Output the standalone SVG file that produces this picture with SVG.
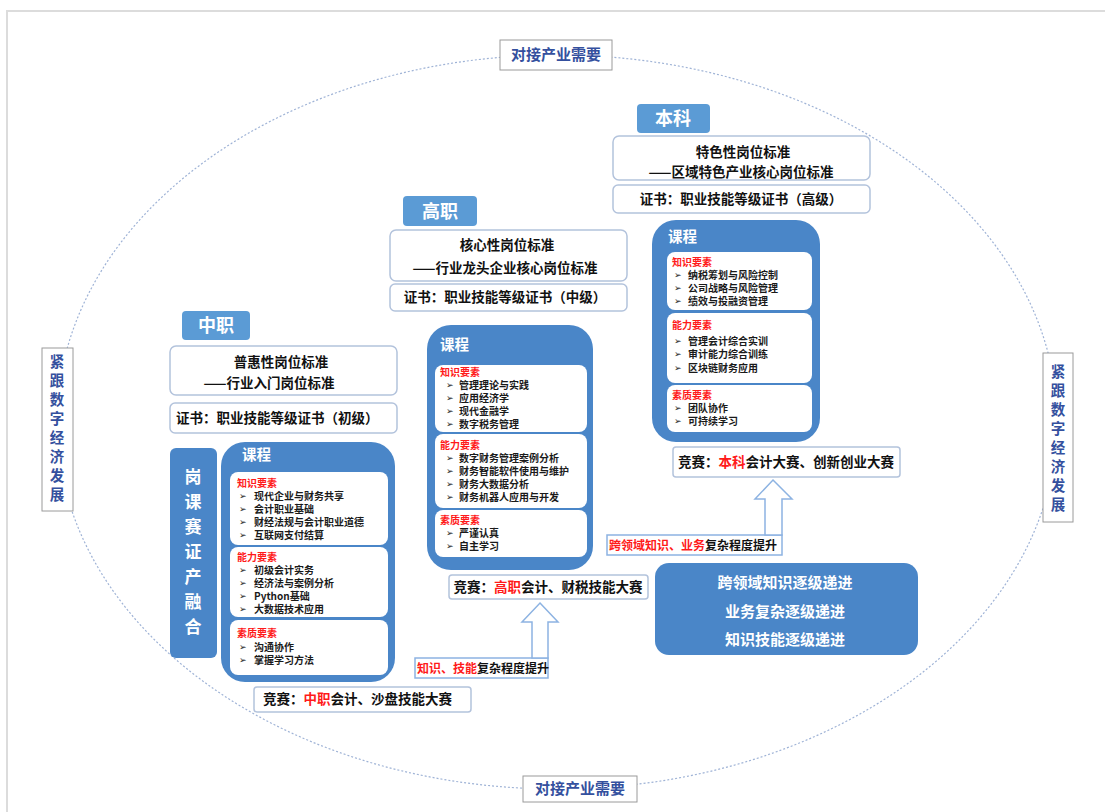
<svg xmlns="http://www.w3.org/2000/svg" width="1105" height="812" viewBox="0 0 1105 812">
<style>
text{font-family:"Noto Sans CJK SC","Liberation Sans",sans-serif;font-weight:700}
.tab{fill:#5b9bd5}
.tabt{fill:#fff;font-size:18px}
.wbox{fill:#fff;stroke:#b3c3dc;stroke-width:1.5}
.std{fill:#111;font-size:13.5px}
.cert{fill:#111;font-size:13.5px}
.course{fill:#4a86c8}
.inner{fill:#fff}
.ct{fill:#fff;font-size:14.5px}
.vt{fill:#fff;font-size:17px}
.h{fill:#ff1a1a;font-size:10px}
.it{fill:#1a1a1a;font-size:10px}
.bl{fill:#1a1a1a;font-size:9px;font-family:"DejaVu Sans",sans-serif}
.comp{fill:#111;font-size:13.5px}
.red{fill:#ff1a1a}
.side{fill:#fff;stroke:#9a9a9a;stroke-width:1}
.sidet{fill:#34509e;font-size:14.5px}
.arrow{fill:#fff;stroke:#8db3e2;stroke-width:1.5}
.lbl{fill:#fff;stroke:#8db3e2;stroke-width:1.5}
.lblt{fill:#111;font-size:12px}
.sum{fill:#4a86c8}
.sumt{fill:#fff;font-size:15px;font-weight:600}
</style>
<rect x="7" y="11" width="1110" height="820" fill="none" stroke="#dcdcdc" stroke-width="2"/>
<g id="connectors">
<ellipse cx="557" cy="422" rx="500" ry="367" fill="none" stroke="#9fb3d6" stroke-width="1.2" stroke-dasharray="2 2"/>
</g>
<g id="top-label">
<rect class="side" x="500" y="40" width="112" height="30"/>
<text class="sidet" style="font-size:15px" x="556" y="60" text-anchor="middle">对接产业需要</text>
</g>
<g id="bottom-label">
<rect class="side" x="523" y="776" width="114" height="26"/>
<text class="sidet" style="font-size:15px" x="580" y="794" text-anchor="middle">对接产业需要</text>
</g>
<g id="left-label">
<rect class="side" x="42" y="348" width="31" height="163"/>
<text class="sidet" x="57" y="367" text-anchor="middle">紧</text>
<text class="sidet" x="57" y="386" text-anchor="middle">跟</text>
<text class="sidet" x="57" y="405" text-anchor="middle">数</text>
<text class="sidet" x="57" y="424" text-anchor="middle">字</text>
<text class="sidet" x="57" y="443" text-anchor="middle">经</text>
<text class="sidet" x="57" y="462" text-anchor="middle">济</text>
<text class="sidet" x="57" y="481" text-anchor="middle">发</text>
<text class="sidet" x="57" y="500" text-anchor="middle">展</text>
</g>
<g id="right-label">
<rect class="side" x="1043" y="353" width="30" height="169"/>
<text class="sidet" x="1058" y="377" text-anchor="middle">紧</text>
<text class="sidet" x="1058" y="396" text-anchor="middle">跟</text>
<text class="sidet" x="1058" y="415" text-anchor="middle">数</text>
<text class="sidet" x="1058" y="434" text-anchor="middle">字</text>
<text class="sidet" x="1058" y="453" text-anchor="middle">经</text>
<text class="sidet" x="1058" y="472" text-anchor="middle">济</text>
<text class="sidet" x="1058" y="491" text-anchor="middle">发</text>
<text class="sidet" x="1058" y="510" text-anchor="middle">展</text>
</g>

<!-- 中职 -->
<g id="zhongzhi-tab">
<rect class="tab" x="182" y="311" width="68" height="29" rx="4"/>
<text class="tabt" x="216" y="332" text-anchor="middle">中职</text>
</g>
<g id="zhongzhi-standard">
<rect class="wbox" x="170" y="346" width="227" height="49" rx="6"/>
<text class="std" x="281" y="367" text-anchor="middle">普惠性岗位标准</text>
<text class="std" x="269" y="388" text-anchor="middle">——行业入门岗位标准</text>
</g>
<g id="zhongzhi-cert">
<rect class="wbox" x="170" y="403" width="227" height="30" rx="5"/>
<text class="cert" x="176" y="423">证书：职业技能等级证书（初级）</text>
</g>
<g id="zhongzhi-fusion">
<rect class="course" x="170" y="448" width="47" height="210" rx="6"/>
<text class="vt" x="193" y="483" text-anchor="middle">岗</text>
<text class="vt" x="193" y="508" text-anchor="middle">课</text>
<text class="vt" x="193" y="533" text-anchor="middle">赛</text>
<text class="vt" x="193" y="558" text-anchor="middle">证</text>
<text class="vt" x="193" y="583" text-anchor="middle">产</text>
<text class="vt" x="193" y="608" text-anchor="middle">融</text>
<text class="vt" x="193" y="633" text-anchor="middle">合</text>
</g>
<g id="zhongzhi-course">
<rect class="course" x="221" y="442" width="174" height="240" rx="24"/>
<text class="ct" x="242" y="460">课程</text>
<rect class="inner" x="230" y="472" width="158" height="73" rx="8"/>
<rect class="inner" x="230" y="547" width="158" height="70" rx="8"/>
<rect class="inner" x="230" y="620" width="158" height="55" rx="8"/>
<text class="h" x="237" y="487">知识要素</text>
<text class="bl" x="239" y="499">➢</text><text class="it" x="254" y="500">现代企业与财务共享</text>
<text class="bl" x="239" y="512">➢</text><text class="it" x="254" y="513">会计职业基础</text>
<text class="bl" x="239" y="525">➢</text><text class="it" x="254" y="526">财经法规与会计职业道德</text>
<text class="bl" x="239" y="538">➢</text><text class="it" x="254" y="539">互联网支付结算</text>
<text class="h" x="237" y="561">能力要素</text>
<text class="bl" x="239" y="573">➢</text><text class="it" x="254" y="574">初级会计实务</text>
<text class="bl" x="239" y="586">➢</text><text class="it" x="254" y="587">经济法与案例分析</text>
<text class="bl" x="239" y="599">➢</text><text class="it" x="254" y="600">Python基础</text>
<text class="bl" x="239" y="612">➢</text><text class="it" x="254" y="613">大数据技术应用</text>
<text class="h" x="237" y="637">素质要素</text>
<text class="bl" x="239" y="650">➢</text><text class="it" x="254" y="651">沟通协作</text>
<text class="bl" x="239" y="663">➢</text><text class="it" x="254" y="664">掌握学习方法</text>
</g>
<g id="zhongzhi-competition">
<rect class="wbox" x="254" y="687" width="217" height="25" rx="3"/>
<text class="comp" x="263" y="704">竞赛：<tspan class="red">中职</tspan>会计、沙盘技能大赛</text>
</g>

<!-- 高职 -->
<g id="gaozhi-tab">
<rect class="tab" x="403" y="196" width="74" height="30" rx="4"/>
<text class="tabt" x="440" y="218" text-anchor="middle">高职</text>
</g>
<g id="gaozhi-standard">
<rect class="wbox" x="390" y="230" width="237" height="51" rx="6"/>
<text class="std" x="507" y="250" text-anchor="middle">核心性岗位标准</text>
<text class="std" x="505" y="273" text-anchor="middle">——行业龙头企业核心岗位标准</text>
</g>
<g id="gaozhi-cert">
<rect class="wbox" x="390" y="284" width="237" height="27" rx="5"/>
<text class="cert" x="505" y="302" text-anchor="middle">证书：职业技能等级证书（中级）</text>
</g>
<g id="gaozhi-course">
<rect class="course" x="427" y="325" width="166" height="245" rx="24"/>
<text class="ct" x="440" y="350">课程</text>
<rect class="inner" x="435" y="365" width="152" height="67" rx="8"/>
<rect class="inner" x="435" y="434" width="152" height="74" rx="8"/>
<rect class="inner" x="435" y="510" width="152" height="47" rx="8"/>
<text class="h" x="440" y="376">知识要素</text>
<text class="bl" x="446" y="388">➢</text><text class="it" x="459" y="389">管理理论与实践</text>
<text class="bl" x="446" y="401">➢</text><text class="it" x="459" y="402">应用经济学</text>
<text class="bl" x="446" y="414">➢</text><text class="it" x="459" y="415">现代金融学</text>
<text class="bl" x="446" y="427">➢</text><text class="it" x="459" y="428">数字税务管理</text>
<text class="h" x="440" y="449">能力要素</text>
<text class="bl" x="446" y="461">➢</text><text class="it" x="459" y="462">数字财务管理案例分析</text>
<text class="bl" x="446" y="474">➢</text><text class="it" x="459" y="475">财务智能软件使用与维护</text>
<text class="bl" x="446" y="487">➢</text><text class="it" x="459" y="488">财务大数据分析</text>
<text class="bl" x="446" y="500">➢</text><text class="it" x="459" y="501">财务机器人应用与开发</text>
<text class="h" x="440" y="524">素质要素</text>
<text class="bl" x="446" y="536">➢</text><text class="it" x="459" y="537">严谨认真</text>
<text class="bl" x="446" y="549">➢</text><text class="it" x="459" y="550">自主学习</text>
</g>
<g id="gaozhi-competition">
<rect class="wbox" x="449" y="575" width="199" height="24" rx="3"/>
<text class="comp" x="548" y="592" text-anchor="middle">竞赛：<tspan class="red">高职</tspan>会计、财税技能大赛</text>
</g>
<g id="gaozhi-arrow">
<rect class="lbl" x="415" y="658" width="133" height="20"/>
<text class="lblt" x="417" y="673"><tspan class="red">知识、技能</tspan>复杂程度提升</text>
<polygon class="arrow" points="540,603 558,622 548,622 548,658 532,658 532,622 522,622"/>
</g>

<!-- 本科 -->
<g id="benke-tab">
<rect class="tab" x="637" y="104" width="73" height="29" rx="4"/>
<text class="tabt" x="673" y="125" text-anchor="middle">本科</text>
</g>
<g id="benke-standard">
<rect class="wbox" x="613" y="136" width="257" height="44" rx="6"/>
<text class="std" x="743" y="157" text-anchor="middle">特色性岗位标准</text>
<text class="std" x="741" y="177" text-anchor="middle">——区域特色产业核心岗位标准</text>
</g>
<g id="benke-cert">
<rect class="wbox" x="613" y="185" width="257" height="28" rx="5"/>
<text class="cert" x="741" y="204" text-anchor="middle">证书：职业技能等级证书（高级）</text>
</g>
<g id="benke-course">
<rect class="course" x="652" y="220" width="168" height="222" rx="24"/>
<text class="ct" x="668" y="242">课程</text>
<rect class="inner" x="667" y="252" width="145" height="58" rx="8"/>
<rect class="inner" x="667" y="313" width="145" height="70" rx="8"/>
<rect class="inner" x="667" y="385" width="145" height="47" rx="8"/>
<text class="h" x="672" y="266">知识要素</text>
<text class="bl" x="674" y="278">➢</text><text class="it" x="688" y="279">纳税筹划与风险控制</text>
<text class="bl" x="674" y="291">➢</text><text class="it" x="688" y="292">公司战略与风险管理</text>
<text class="bl" x="674" y="304">➢</text><text class="it" x="688" y="305">绩效与投融资管理</text>
<text class="h" x="672" y="329">能力要素</text>
<text class="bl" x="674" y="344">➢</text><text class="it" x="688" y="345">管理会计综合实训</text>
<text class="bl" x="674" y="357">➢</text><text class="it" x="688" y="358">审计能力综合训练</text>
<text class="bl" x="674" y="371">➢</text><text class="it" x="688" y="372">区块链财务应用</text>
<text class="h" x="672" y="399">素质要素</text>
<text class="bl" x="674" y="411">➢</text><text class="it" x="688" y="412">团队协作</text>
<text class="bl" x="674" y="424">➢</text><text class="it" x="688" y="425">可持续学习</text>
</g>
<g id="benke-competition">
<rect class="wbox" x="673" y="447" width="227" height="30" rx="3"/>
<text class="comp" x="786" y="467" text-anchor="middle">竞赛：<tspan class="red">本科</tspan>会计大赛、创新创业大赛</text>
</g>
<g id="benke-arrow">
<rect class="lbl" x="607" y="535" width="175" height="20"/>
<text class="lblt" x="609" y="550"><tspan class="red">跨领域知识、业务</tspan>复杂程度提升</text>
<polygon class="arrow" points="773,480 792,499 782,499 782,535 765,535 765,499 755,499"/>
</g>

<g id="summary">
<rect class="sum" x="655" y="563" width="263" height="92" rx="14"/>
<text class="sumt" x="785" y="588" text-anchor="middle">跨领域知识逐级递进</text>
<text class="sumt" x="785" y="617" text-anchor="middle">业务复杂逐级递进</text>
<text class="sumt" x="785" y="645" text-anchor="middle">知识技能逐级递进</text>
</g>
</svg>
